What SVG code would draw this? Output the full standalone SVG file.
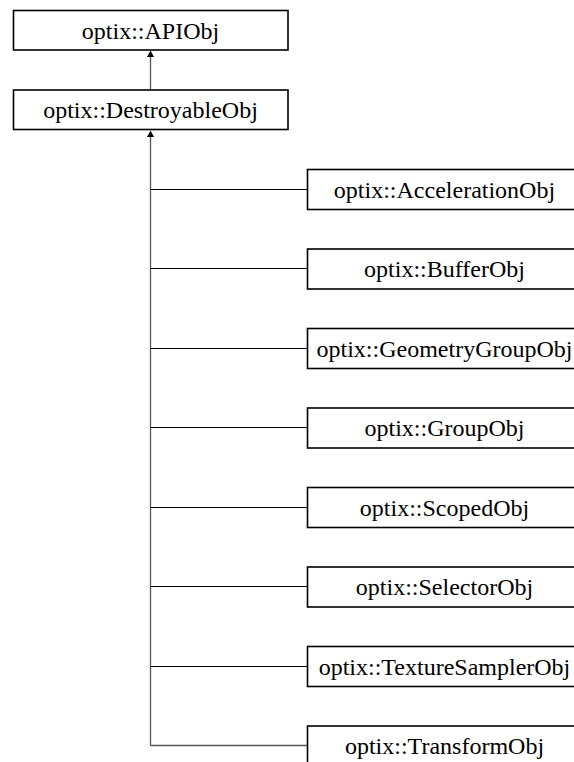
<svg xmlns="http://www.w3.org/2000/svg" width="574" height="762" viewBox="0 0 574 762">
<style>
.box{fill:#fff;stroke:#000;stroke-width:1.6}
.lbl{font-family:'Liberation Serif','Times New Roman',serif;font-size:24px;fill:#000;text-anchor:middle}
.edge{stroke:#000;stroke-width:1;fill:none}
.trunk{stroke:#555;stroke-width:1.3;fill:none}
.head{fill:#000}
</style>
<g id="connectors">
<line class="trunk" x1="150.5" y1="90" x2="150.5" y2="55"/>
<polygon class="head" points="147,57 150.5,50.5 154,57"/>
<line class="trunk" x1="150.5" y1="745.5" x2="150.5" y2="135"/>
<polygon class="head" points="147,137 150.5,130.5 154,137"/>
<line class="edge" x1="150.5" y1="189.5" x2="307" y2="189.5"/>
<line class="edge" x1="150.5" y1="268.5" x2="307" y2="268.5"/>
<line class="edge" x1="150.5" y1="348.5" x2="307" y2="348.5"/>
<line class="edge" x1="150.5" y1="427.5" x2="307" y2="427.5"/>
<line class="edge" x1="150.5" y1="507.5" x2="307" y2="507.5"/>
<line class="edge" x1="150.5" y1="586.5" x2="307" y2="586.5"/>
<line class="edge" x1="150.5" y1="666.5" x2="307" y2="666.5"/>
<line class="trunk" x1="150.5" y1="745.5" x2="307" y2="745.5"/>
</g>
<g id="APIObj"><rect class="box" x="13.5" y="10.5" width="274.5" height="39.5"/><text class="lbl" x="150.5" y="38.5">optix::APIObj</text></g>
<g id="DestroyableObj"><rect class="box" x="13.5" y="90" width="274.5" height="39.5"/><text class="lbl" x="150.5" y="118">optix::DestroyableObj</text></g>
<g id="AccelerationObj"><rect class="box" x="307.5" y="169.5" width="274.5" height="40"/><text class="lbl" x="444.5" y="197.5">optix::AccelerationObj</text></g>
<g id="BufferObj"><rect class="box" x="307.5" y="249" width="274.5" height="40"/><text class="lbl" x="444.5" y="277">optix::BufferObj</text></g>
<g id="GeometryGroupObj"><rect class="box" x="307.5" y="328.5" width="274.5" height="40"/><text class="lbl" x="444.5" y="356.5">optix::GeometryGroupObj</text></g>
<g id="GroupObj"><rect class="box" x="307.5" y="408" width="274.5" height="40"/><text class="lbl" x="444.5" y="436">optix::GroupObj</text></g>
<g id="ScopedObj"><rect class="box" x="307.5" y="487.5" width="274.5" height="40"/><text class="lbl" x="444.5" y="515.5">optix::ScopedObj</text></g>
<g id="SelectorObj"><rect class="box" x="307.5" y="567" width="274.5" height="40"/><text class="lbl" x="444.5" y="595">optix::SelectorObj</text></g>
<g id="TextureSamplerObj"><rect class="box" x="307.5" y="646.5" width="274.5" height="40"/><text class="lbl" x="444.5" y="674.5">optix::TextureSamplerObj</text></g>
<g id="TransformObj"><rect class="box" x="307.5" y="726" width="274.5" height="40"/><text class="lbl" x="444.5" y="754">optix::TransformObj</text></g>
</svg>
